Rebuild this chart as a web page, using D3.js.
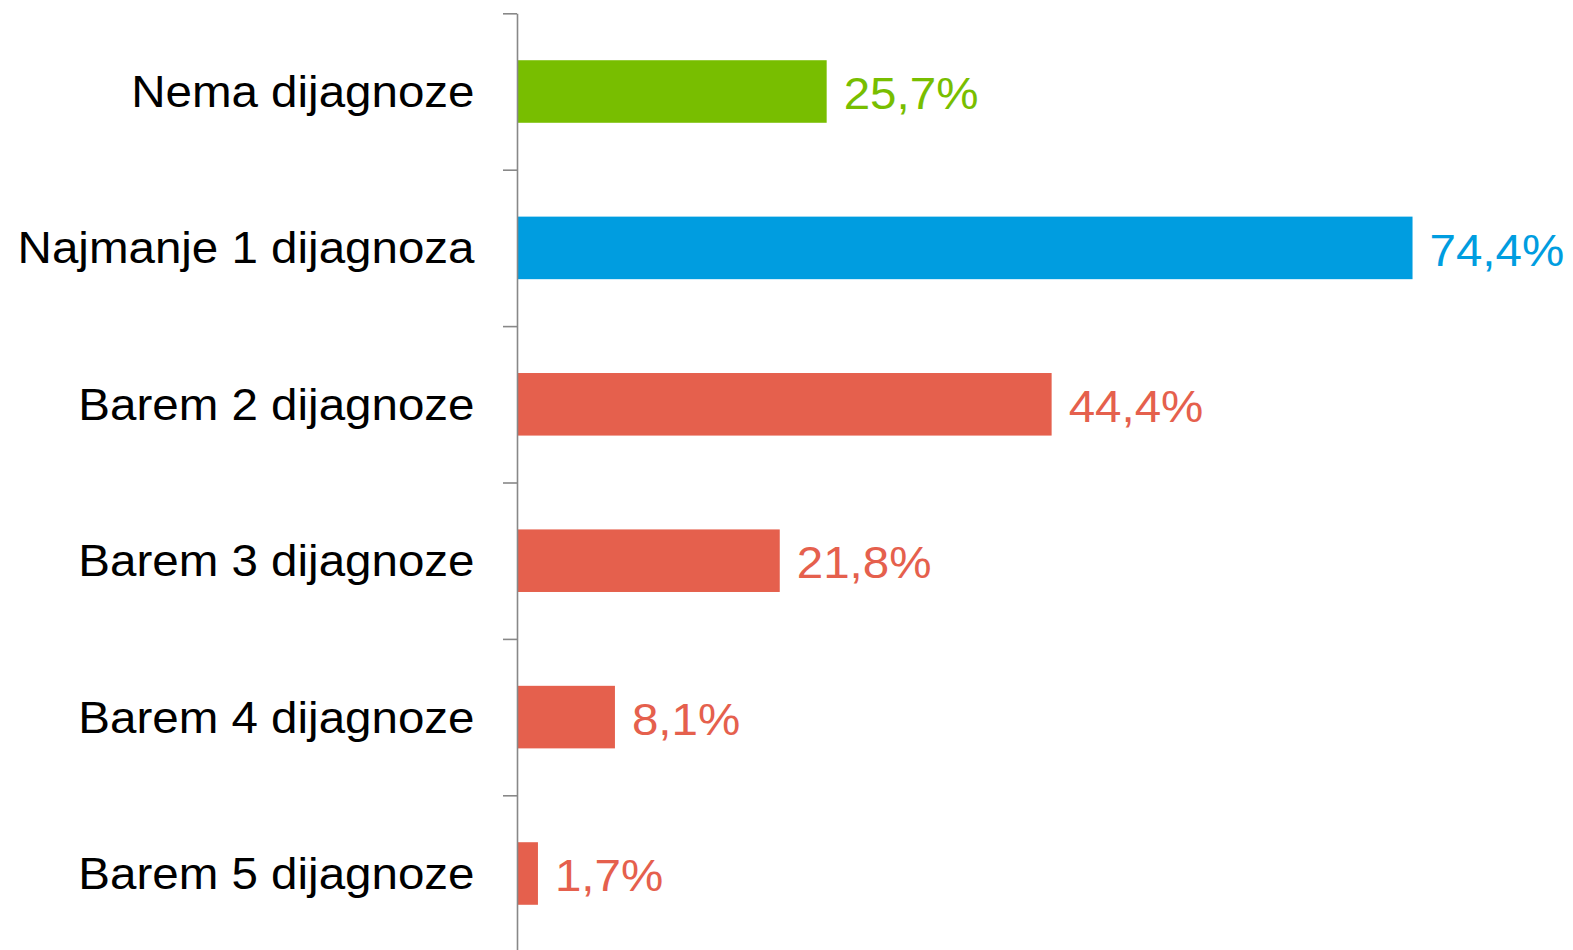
<!DOCTYPE html>
<html>
<head>
<meta charset="utf-8">
<script src="https://cdn.jsdelivr.net/npm/d3@7"></script>
<style>
  html, body { margin: 0; padding: 0; background: #fff; }
  svg { display: block; font-family: "Liberation Sans", Arial, sans-serif; }
</style>
</head>
<body>
<div id="chart"></div>
<script>
// Chart data
const categories = ["Nema dijagnoze", "Najmanje 1 dijagnoza", "Barem 2 dijagnoze",
                    "Barem 3 dijagnoze", "Barem 4 dijagnoze", "Barem 5 dijagnoze"];
const values = [25.7, 74.4, 44.4, 21.8, 8.1, 1.7];
const valueLabels = ["25,7%", "74,4%", "44,4%", "21,8%", "8,1%", "1,7%"];
const barColors = ["#78be00", "#009de0", "#e5604d", "#e5604d", "#e5604d", "#e5604d"];

function drawBarChart() {
    const width = 1573, height = 950;
    const axisX = 517.5;
    const top = 13.3, bottom = 951.7;
    const stretch = 1.08; // text in the original is slightly wide

    const svg = d3.select("#chart")
        .append("svg")
        .attr("width", width)
        .attr("height", height);

    const x = d3.scaleLinear()
        .domain([0, 100])
        .range([axisX, axisX + 1203]);

    const y = d3.scaleBand()
        .domain(categories)
        .range([top, bottom])
        .paddingInner(0.6)
        .paddingOuter(0.3);

    // Bars
    svg.selectAll("rect.bar")
        .data(values)
        .enter()
        .append("rect")
        .attr("class", "bar")
        .attr("x", x(0))
        .attr("y", (d, i) => y(categories[i]))
        .attr("width", d => x(d) - x(0))
        .attr("height", y.bandwidth())
        .attr("fill", (d, i) => barColors[i]);

    // Axis with ticks at category boundaries
    const yEdge = d3.scaleLinear().domain([0, categories.length]).range([top, bottom]);
    const axis = svg.append("g")
        .attr("transform", `translate(${axisX - 0.5},0)`)
        .call(d3.axisLeft(yEdge)
            .tickValues(d3.range(categories.length + 1))
            .tickSize(14)
            .tickSizeOuter(0)
            .tickFormat(""));
    axis.selectAll("path, line")
        .attr("stroke", "#888")
        .attr("stroke-width", 1.6);

    // Category labels
    svg.selectAll("text.cat")
        .data(categories)
        .enter()
        .append("text")
        .attr("class", "cat")
        .attr("transform", d => `translate(${axisX - 43},${y(d) + y.bandwidth() / 2}) scale(${stretch},1)`)
        .attr("dy", "0.35em")
        .attr("text-anchor", "end")
        .attr("font-size", 44)
        .attr("fill", "#000")
        .text(d => d);

    // Value labels
    svg.selectAll("text.val")
        .data(values)
        .enter()
        .append("text")
        .attr("class", "val")
        .attr("transform", (d, i) => `translate(${x(d) + 17},${y(categories[i]) + y.bandwidth() / 2}) scale(${stretch},1)`)
        .attr("dy", "0.4em")
        .attr("font-size", 44)
        .attr("fill", (d, i) => barColors[i])
        .text((d, i) => valueLabels[i]);
}

drawBarChart();
</script>
</body>
</html>
